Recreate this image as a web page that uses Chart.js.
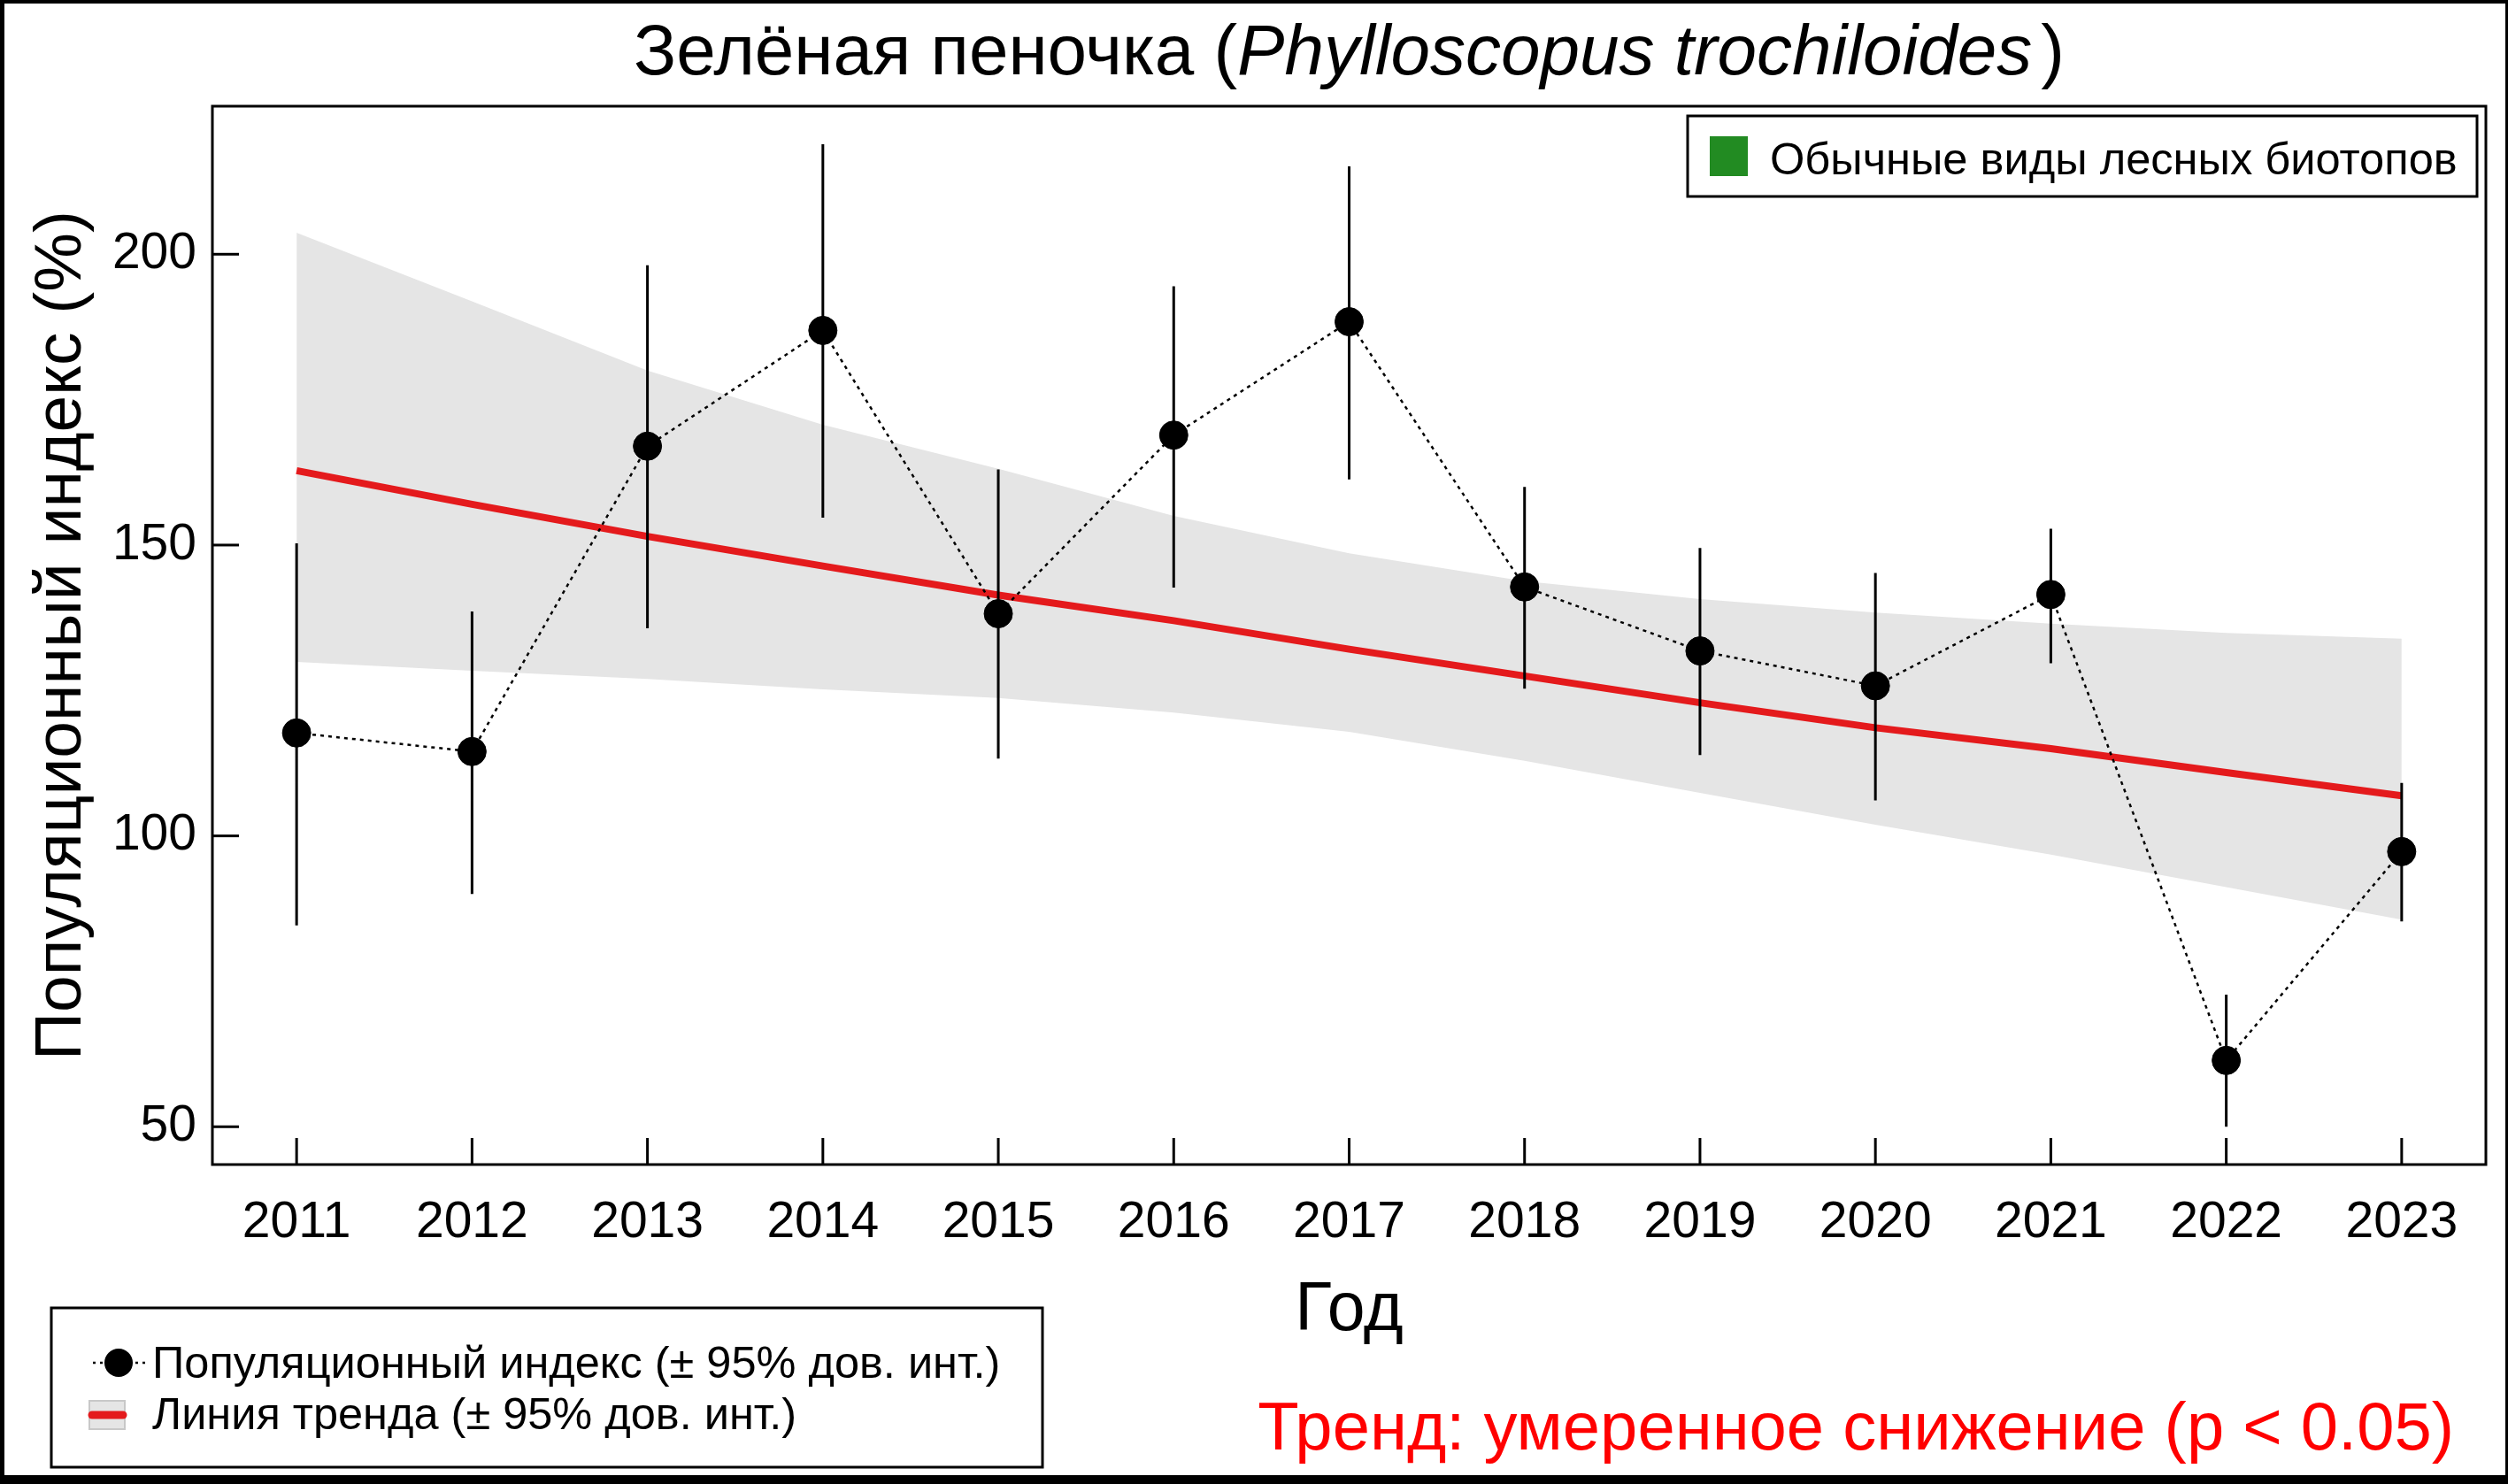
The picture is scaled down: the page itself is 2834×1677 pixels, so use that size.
<!DOCTYPE html>
<html><head><meta charset="utf-8">
<script src="https://cdn.jsdelivr.net/npm/chart.js@4.4.0/dist/chart.umd.min.js"></script>
<style>html,body{margin:0;padding:0;background:#fff;overflow:hidden}canvas{display:block}</style>
</head><body>
<canvas id="c" width="2834" height="1677"></canvas>
<script>
const years = [2011,2012,2013,2014,2015,2016,2017,2018,2019,2020,2021,2022,2023];
const indexValues = [117.7,114.5,167.0,186.9,138.2,168.9,188.4,142.8,131.8,125.8,141.5,61.4,97.3];
const indexLower  = [84.6,90.0,135.7,154.7,113.3,142.7,161.3,125.3,113.9,106.1,129.7,50.0,85.3];
const indexUpper  = [150.3,138.6,198.1,218.9,163.0,194.5,215.1,160.0,149.5,145.2,152.8,72.7,109.1];
const trendValues = [162.8,157.0,151.5,146.4,141.4,137.0,132.1,127.5,122.9,118.6,115.0,110.9,106.9];
const trendUpper  = [203.7,191.9,180.0,170.7,163.1,155.0,148.6,143.8,140.7,138.4,136.5,134.9,133.9];
const trendLower  = [129.9,128.4,127.0,125.2,123.7,121.2,117.9,112.9,107.4,101.9,96.8,91.2,85.6];
const yTickLabels = [50,100,150,200];
const xTickLabels = years;

const titleMain = "Зелёная пеночка (";
const titleLatin = "Phylloscopus trochiloides";
const titleEnd = ")";
const yTitle = "Популяционный индекс (%)";
const xTitle = "Год";
const groupLabel = "Обычные виды лесных биотопов";
const legendIndex = "Популяционный индекс (± 95% дов. инт.)";
const legendTrend = "Линия тренда (± 95% дов. инт.)";
const trendText = "Тренд: умеренное снижение (p < 0.05)";

const FAM = '"Liberation Sans", Arial, Helvetica, sans-serif';

const toXY = arr => years.map((x, i) => ({x, y: arr[i]}));
const barData = [];
years.forEach((x, i) => {
  barData.push({x, y: indexLower[i]});
  barData.push({x, y: indexUpper[i]});
  barData.push({x, y: null});
});

const deco = {
  id: 'deco',
  beforeDraw(chart) {
    const c = chart.ctx;
    c.save();
    c.fillStyle = '#fff';
    c.fillRect(0, 0, chart.width, chart.height);
    c.restore();
  },
  afterDraw(chart) {
    const c = chart.ctx;
    const a = chart.chartArea;
    const xs = chart.scales.x, ys = chart.scales.y;
    c.save();
    c.strokeStyle = '#000';
    c.lineWidth = 3;
    c.strokeRect(a.left, a.top, a.right - a.left, a.bottom - a.top);
    yTickLabels.forEach(v => {
      const p = ys.getPixelForValue(v);
      c.beginPath(); c.moveTo(a.left, p); c.lineTo(a.left + 30, p); c.stroke();
    });
    xTickLabels.forEach(v => {
      const p = xs.getPixelForValue(v);
      c.beginPath(); c.moveTo(p, a.bottom); c.lineTo(p, a.bottom - 30); c.stroke();
    });
    c.fillStyle = '#000';
    c.fillRect(0, 0, chart.width, 4);
    c.fillRect(0, 0, 5, chart.height);
    c.fillRect(chart.width - 3, 0, 3, chart.height);
    c.fillRect(0, chart.height - 10, chart.width, 10);

    const cx = (a.left + a.right) / 2;
    c.fillStyle = '#000';
    c.textBaseline = 'alphabetic';
    c.textAlign = 'left';
    const nf = '80px ' + FAM, itf = 'italic 80px ' + FAM;
    c.font = nf; const w1 = c.measureText(titleMain).width; const w3 = c.measureText(titleEnd).width;
    c.font = itf; const w2 = c.measureText(titleLatin).width;
    const gap = 10;
    let tx = cx - (w1 + w2 + gap + w3) / 2;
    c.font = nf; c.fillText(titleMain, tx, 84);
    c.font = itf; c.fillText(titleLatin, tx + w1, 84);
    c.font = nf; c.fillText(titleEnd, tx + w1 + w2 + gap, 84);

    c.save();
    c.translate(91, (a.top + a.bottom) / 2);
    c.rotate(-Math.PI / 2);
    c.textAlign = 'center';
    c.font = '75px ' + FAM;
    c.fillText(yTitle, 0, 0);
    c.restore();

    c.textAlign = 'center';
    c.font = '77px ' + FAM;
    c.fillText(xTitle, cx, 1503);

    c.lineWidth = 3;
    c.strokeStyle = '#000';
    c.fillStyle = '#fff';
    c.fillRect(1907, 131, 892, 91);
    c.strokeRect(1907, 131, 892, 91);
    c.fillStyle = '#228B22';
    c.fillRect(1932, 154, 43, 45);
    c.fillStyle = '#000';
    c.textAlign = 'left';
    c.font = '50.6px ' + FAM;
    c.fillText(groupLabel, 2000, 197);

    c.strokeRect(58, 1478, 1120, 180);
    c.lineWidth = 2.5;
    c.setLineDash([3, 5]);
    c.beginPath(); c.moveTo(105, 1540); c.lineTo(165, 1540); c.stroke();
    c.setLineDash([]);
    c.beginPath(); c.arc(134, 1540, 16, 0, Math.PI * 2); c.fill();
    c.font = '50.5px ' + FAM;
    c.fillText(legendIndex, 172, 1557);
    c.fillStyle = '#e5e5e5';
    c.fillRect(101, 1583, 40, 32);
    c.strokeStyle = '#c8c8c8';
    c.lineWidth = 2;
    c.strokeRect(101, 1583, 40, 32);
    c.strokeStyle = '#e41a1c';
    c.lineWidth = 9;
    c.lineCap = 'round';
    c.beginPath(); c.moveTo(104, 1599); c.lineTo(139, 1599); c.stroke();
    c.lineCap = 'butt';
    c.fillStyle = '#000';
    c.fillText(legendTrend, 172, 1615);

    c.fillStyle = '#ff0000';
    c.textAlign = 'right';
    c.font = '76px ' + FAM;
    c.fillText(trendText, 2773, 1638);
    c.restore();
  }
};

new Chart(document.getElementById('c').getContext('2d'), {
  type: 'line',
  data: {
    datasets: [
      {label: 'index', data: toXY(indexValues), borderColor: '#000', borderWidth: 2.5, borderDash: [4, 5],
       pointRadius: 16, pointBackgroundColor: '#000', pointBorderColor: '#000', pointBorderWidth: 1,
       fill: false, tension: 0, order: 0},
      {label: 'ci', data: barData, borderColor: '#000', borderWidth: 3, pointRadius: 0, fill: false, spanGaps: false, order: 1},
      {label: 'trend', data: toXY(trendValues), borderColor: '#e41a1c', borderWidth: 8, pointRadius: 0, fill: false, tension: 0, order: 2},
      {label: 'upper', data: toXY(trendUpper), borderColor: 'rgba(0,0,0,0)', borderWidth: 0, backgroundColor: '#e5e5e5',
       pointRadius: 0, fill: '+1', tension: 0, order: 3},
      {label: 'lower', data: toXY(trendLower), borderColor: 'rgba(0,0,0,0)', borderWidth: 0, pointRadius: 0, fill: false, tension: 0, order: 4}
    ]
  },
  options: {
    responsive: false, animation: false, devicePixelRatio: 1,
    layout: {padding: {top: 120, right: 25, left: 0, bottom: 0}},
    plugins: {legend: {display: false}, tooltip: {enabled: false}, title: {display: false}},
    scales: {
      x: {
        type: 'linear', min: 2010.52, max: 2023.48,
        afterBuildTicks: s => { s.ticks = xTickLabels.map(v => ({value: v})); },
        afterFit: s => { s.height = 361; },
        grid: {display: false, drawTicks: false}, border: {display: false},
        ticks: {font: {family: FAM, size: 57}, color: '#000', padding: 32, maxRotation: 0, autoSkip: false,
                callback: v => String(v)}
      },
      y: {
        type: 'linear', min: 43.5, max: 225.45,
        afterBuildTicks: s => { s.ticks = yTickLabels.map(v => ({value: v})); },
        afterFit: s => { s.width = 240; },
        grid: {display: false, drawTicks: false}, border: {display: false},
        ticks: {font: {family: FAM, size: 57}, color: '#000', padding: 18, autoSkip: false,
                callback: v => String(v)}
      }
    }
  },
  plugins: [deco]
});
</script>
</body></html>
